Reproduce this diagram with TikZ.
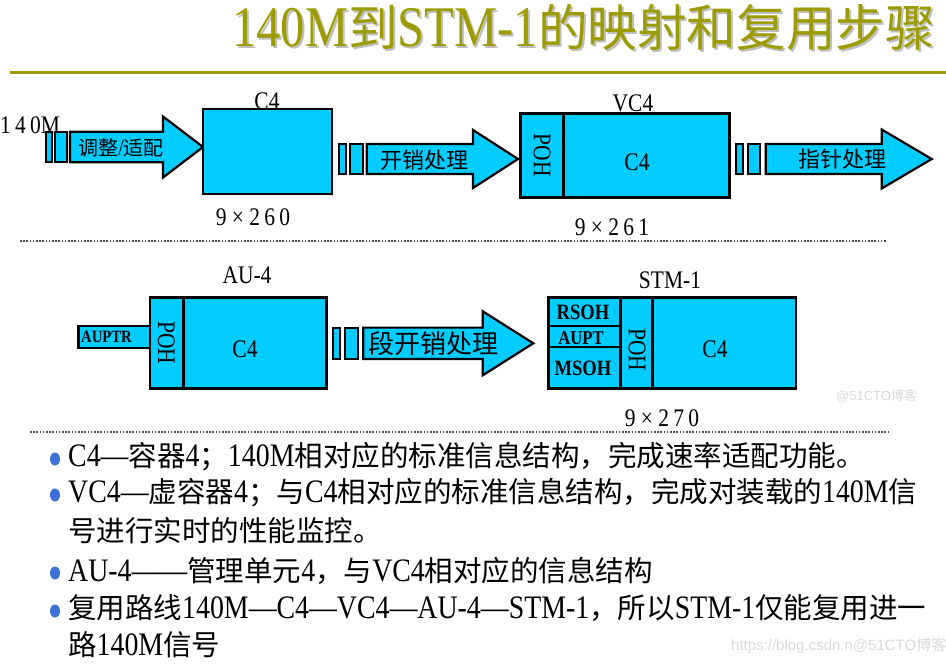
\documentclass[tikz,border=0pt]{standalone}
\usepackage{fontspec}
\setmainfont[FakeStretch=0.85,Scale=1.15]{Liberation Serif}
\newfontfamily\cjk{Noto Sans CJK SC}
\newfontfamily\wmfont{Liberation Sans}
\newcommand\zh[1]{{\cjk #1}}
\newcommand\titletext{\resizebox{703pt}{\height}{140M\zh{到}STM-1\zh{的映射和复用步骤}}}
\definecolor{cyanfill}{HTML}{00CCFF}
\definecolor{olive}{HTML}{9C9C00}
\definecolor{bulletblue}{HTML}{3B6FD6}
\tikzset{
  boxsty/.style={draw=black,line width=2.6pt,fill=cyanfill},
  arrsty/.style={draw=black,line width=2.2pt,fill=cyanfill,line join=miter},
  barsty/.style={draw=black,line width=2pt,fill=cyanfill},
  dotline/.style={line width=1.6pt,dash pattern=on 1.6pt off 1.6pt,draw=black!70},
  lbl/.style={inner sep=0pt,font=\fontsize{22}{24}\selectfont},
  boldlbl/.style={inner sep=0pt,font=\bfseries},
  body/.style={anchor=west,inner sep=0pt,font=\fontsize{28.5}{30}\selectfont},
  bullet/.style={fill=bulletblue,draw=none,ellipse,minimum width=10pt,minimum height=13pt,inner sep=0pt},
}
\newcommand\fatarrow[6]{% x0 x1 x2 yc hb hh
  \draw[arrsty] (#1,#4-#5) -- (#2,#4-#5) -- (#2,#4-#6) -- (#3,#4) -- (#2,#4+#6) -- (#2,#4+#5) -- (#1,#4+#5) -- cycle;}
\usetikzlibrary{shapes.geometric}
\begin{document}
\begin{tikzpicture}[x=1pt,y=-1pt]
\useasboundingbox (0,0) rectangle (946,665);
% title
\node[anchor=west,inner sep=0pt,font=\fontsize{50}{52}\selectfont,text=black!25] at (234,30) {\titletext};
\node (title) [anchor=west,inner sep=0pt,font=\fontsize{50}{52}\selectfont,text=olive] at (232,28) {\titletext};
\draw[olive,line width=3pt] (10,72) -- (946,72);

% ===== row 1 =====
\node (in140) [lbl,anchor=west] at (0,125) {1\,4\,0M};
\draw[barsty] (45.7,131.7) rectangle (52.3,162.3);
\draw[barsty] (55,131.7) rectangle (66.7,162.3);
\fatarrow{70}{163}{203}{147}{15.3}{30.5}
\node (a1) [inner sep=0pt,font=\fontsize{20}{22}\selectfont] at (121,148) {\zh{调整}/\zh{适配}};

\draw[boxsty] (203,109) rectangle (332,194);
\node (c4lbl) [lbl] at (267,101) {C4};
\node (c4dim) [lbl] at (253,217) {9 × 2\,6\,0};

\draw[barsty] (339,144) rectangle (345.7,174.3);
\draw[barsty] (350,144) rectangle (362.7,174.3);
\fatarrow{366.7}{473}{518}{159}{15}{29}
\node (a2) [inner sep=0pt,font=\fontsize{22}{24}\selectfont] at (424,160) {\zh{开销处理}};

\draw[boxsty] (520.7,113.3) rectangle (729.3,197.7);
\draw[black,line width=2.6pt] (563.3,113.3) -- (563.3,197.7);
\node (vc4poh) [lbl,rotate=-90] at (542,155.5) {POH};
\node (vc4c4) [lbl] at (637,162) {C4};
\node (vc4lbl) [lbl] at (633,103) {VC4};
\node (vc4dim) [lbl] at (612,227) {9 × 2\,6\,1};

\draw[barsty] (736,144.3) rectangle (743.3,174.3);
\draw[barsty] (747.7,144.3) rectangle (760,174.3);
\fatarrow{765.7}{881.7}{931.7}{159}{15}{29.5}
\node (a3) [inner sep=0pt,font=\fontsize{22}{24}\selectfont] at (842,159) {\zh{指针处理}};

\draw[dotline] (20,241) -- (886,241);

% ===== row 2 =====
\draw[barsty,line width=2.4pt] (78.3,325.7) rectangle (150,347.7);
\node (auptr) [boldlbl,anchor=west,font=\bfseries\fontsize{15}{17}\selectfont] at (81,337) {AUPTR};

\draw[boxsty] (150,297.7) rectangle (326.7,388.3);
\draw[black,line width=2.6pt] (183.3,297.7) -- (183.3,388.3);
\node (aupoh) [lbl,rotate=-90] at (166.5,343) {POH};
\node (auc4) [lbl] at (245,349.5) {C4};
\node (aulbl) [lbl] at (247,275) {AU-4};

\draw[barsty] (332.7,327.7) rectangle (340,359);
\draw[barsty] (345,327.7) rectangle (357.7,359);
\fatarrow{363.3}{482.7}{533.3}{343.3}{15.7}{32}
\node (a4) [inner sep=0pt,font=\fontsize{26}{28}\selectfont] at (433,344) {\zh{段开销处理}};

\draw[boxsty] (548.3,297.7) rectangle (796,388.3);
\draw[black,line width=2.6pt] (620.7,297.7) -- (620.7,388.3);
\draw[black,line width=2.6pt] (652.7,297.7) -- (652.7,388.3);
\draw[black,line width=2.6pt] (548.3,326) -- (620.7,326);
\draw[black,line width=2.6pt] (548.3,347) -- (620.7,347);
\node (rsoh) [boldlbl,font=\bfseries\fontsize{19}{21}\selectfont] at (583,312.5) {RSOH};
\node (aupt) [boldlbl,font=\bfseries\fontsize{17}{19}\selectfont] at (581,338.5) {AUPT};
\node (msoh) [boldlbl,font=\bfseries\fontsize{19}{21}\selectfont] at (583,368) {MSOH};
\node (stmpoh) [lbl,rotate=-90] at (637,350) {POH};
\node (stmc4) [lbl] at (715,349.5) {C4};
\node (stmlbl) [lbl] at (670,280) {STM-1};
\node (stmdim) [lbl] at (662,418) {9 × 2\,7\,0};

\draw[dotline] (30,432) -- (888,432);

% ===== bullets =====
\node (b1) [bullet] at (55,459) {};
\node (b2) [bullet] at (55,495) {};
\node (b3) [bullet] at (55,573) {};
\node (b4) [bullet] at (55,611) {};
\node (t1) [body] at (68,457) {C4—\zh{容器}4\zh{；}140M\zh{相对应的标准信息结构，完成速率适配功能。}};
\node (t2) [body] at (68,493) {VC4—\zh{虚容器}4\zh{；与}C4\zh{相对应的标准信息结构，完成对装载的}140M\zh{信}};
\node (t3) [body] at (68,531) {\zh{号进行实时的性能监控。}};
\node (t4) [body] at (68,571) {AU-4——\zh{管理单元}4\zh{，与}VC4\zh{相对应的信息结构}};
\node (t5) [body] at (68,608) {\zh{复用路线}140M—C4—VC4—AU-4—STM-1\zh{，所以}STM-1\zh{仅能复用进一}};
\node (t6) [body] at (68,645) {\zh{路}140M\zh{信号}};

% watermarks
\node (wm1) [anchor=west,inner sep=0pt,text=black!15,font=\wmfont\fontsize{15}{17}\selectfont] at (731,646) {https://blog.csdn.n@51CTO\zh{博客}};
\node (wm2) [anchor=west,inner sep=0pt,text=black!15,font=\wmfont\fontsize{13}{15}\selectfont] at (836,396) {@51CTO\zh{博客}};
\end{tikzpicture}
\end{document}
